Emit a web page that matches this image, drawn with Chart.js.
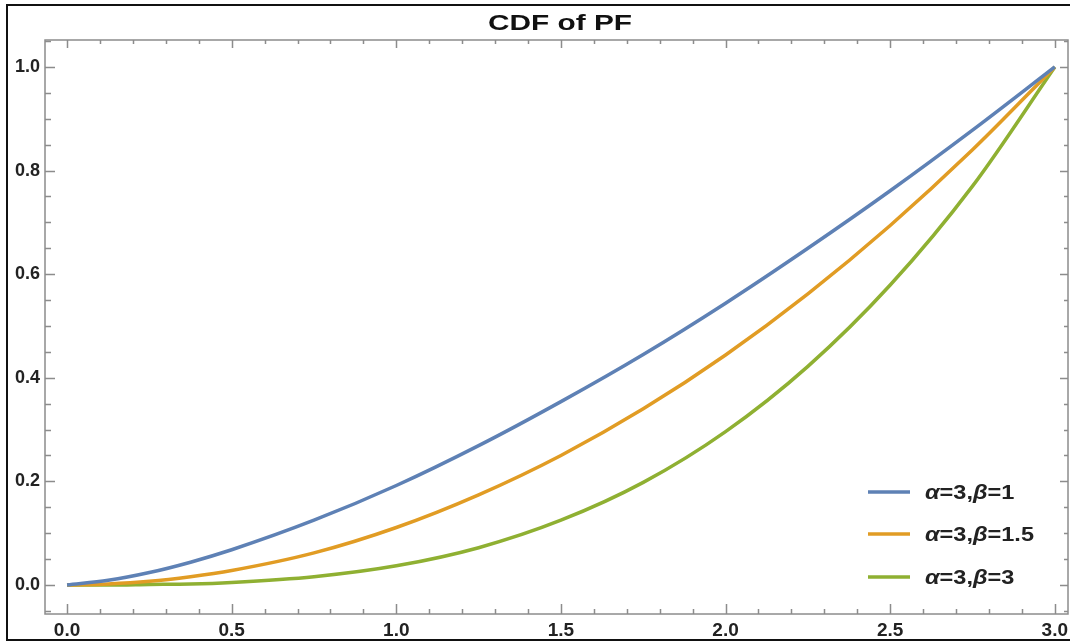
<!DOCTYPE html>
<html>
<head>
<meta charset="utf-8">
<script src="https://cdn.jsdelivr.net/npm/chart.js@4.4.0/dist/chart.umd.min.js"></script>
<style>
  html, body { margin: 0; padding: 0; background: #fff; }
</style>
</head>
<body>
<canvas id="chart" width="1070" height="643"></canvas>
<script>
// values
const xValues = [0, 0.125, 0.25, 0.375, 0.5, 0.75, 1.0, 1.25, 1.5, 1.75, 2.0, 2.25, 2.5, 2.75, 3.0]
const beta1 = [0, 0.009, 0.024, 0.044, 0.068, 0.125, 0.192, 0.269, 0.354, 0.445, 0.544, 0.650, 0.761, 0.878, 1.0]
const beta15 = [0, 0.002, 0.007, 0.016, 0.028, 0.062, 0.111, 0.174, 0.250, 0.340, 0.444, 0.562, 0.694, 0.840, 1.0]
const beta3 = [0, 0, 0.001, 0.002, 0.005, 0.016, 0.037, 0.072, 0.125, 0.198, 0.296, 0.422, 0.579, 0.770, 1.0]
const seriesLabels = ['α=3,β=1', 'α=3,β=1.5', 'α=3,β=3']
const seriesColors = ['#5E81B5', '#E19C24', '#8FB032']
const xTicks = [0, 0.5, 1.0, 1.5, 2.0, 2.5, 3.0]
const yTicks = [0, 0.2, 0.4, 0.6, 0.8, 1.0]
const titleText = 'CDF of PF'

const FONT = '"Liberation Sans", Arial, sans-serif'
const FRAME = '#8c8c8c'

function toPoints(ys) {
  return xValues.map((x, i) => ({ x: x, y: ys[i] }))
}

// draw text squeezed/stretched to a given width
function fillStretched(ctx, text, x, y, width) {
  const w = ctx.measureText(text).width
  ctx.save()
  ctx.translate(x, y)
  ctx.scale(width / w, 1)
  ctx.fillText(text, 0, 0)
  ctx.restore()
}

// frame, inward ticks (Mathematica style), outer border and title
const framePlugin = {
  id: 'framePlugin',
  beforeDatasetsDraw(chart) {
    const ctx = chart.ctx
    const { left, right, top, bottom } = chart.chartArea
    const xs = chart.scales.x
    const ys = chart.scales.y
    ctx.save()
    ctx.strokeStyle = '#111'
    ctx.lineWidth = 2
    ctx.beginPath()
    ctx.moveTo(1072, 5)
    ctx.lineTo(7, 5)
    ctx.lineTo(7, 640)
    ctx.lineTo(1072, 640)
    ctx.stroke()

    ctx.fillStyle = '#111'
    ctx.font = 'bold 22px ' + FONT
    ctx.textBaseline = 'alphabetic'
    ctx.textAlign = 'left'
    fillStretched(ctx, titleText, 488, 30, 144)

    ctx.strokeStyle = FRAME
    ctx.lineWidth = 1.5
    ctx.strokeRect(left, top, right - left, bottom - top)

    ctx.beginPath()
    for (let i = 0; i <= 30; i++) {
      const v = i / 10
      const px = Math.round(xs.getPixelForValue(v)) + 0.5
      const major = i % 5 === 0
      ctx.moveTo(px, bottom)
      ctx.lineTo(px, bottom - (major ? 10 : 5))
      ctx.moveTo(px, top)
      ctx.lineTo(px, top + (major ? 8 : 4))
    }
    for (let i = -1; i <= 21; i++) {
      const v = i * 0.05
      if (v < ys.min || v > ys.max) continue
      const py = Math.round(ys.getPixelForValue(v)) + 0.5
      const major = i % 4 === 0
      ctx.moveTo(left, py)
      ctx.lineTo(left + (major ? 10 : 6), py)
      ctx.moveTo(right, py)
      ctx.lineTo(right - (major ? 8 : 4), py)
    }
    ctx.stroke()
    ctx.restore()
  }
}

// legend inside the plot, lower right
const legendPlugin = {
  id: 'legendPlugin',
  afterDatasetsDraw(chart) {
    const ctx = chart.ctx
    const rows = [492, 534, 577]
    ctx.save()
    chart.data.datasets.forEach((ds, i) => {
      const y = rows[i]
      ctx.strokeStyle = ds.borderColor
      ctx.lineWidth = 3.5
      ctx.beginPath()
      ctx.moveTo(868, y)
      ctx.lineTo(910, y)
      ctx.stroke()
      let x = 925
      ctx.textBaseline = 'middle'
      ctx.fillStyle = '#222'
      ctx.save()
      ctx.translate(x, y + 1)
      ctx.scale(1.12, 1)
      let dx = 0
      for (const ch of ds.label) {
        if (ch === 'α' || ch === 'β') {
          ctx.font = 'italic bold 21px ' + FONT
        } else {
          ctx.font = 'bold 21px ' + FONT
        }
        ctx.fillText(ch, dx, 0)
        dx += ctx.measureText(ch).width
      }
      ctx.restore()
    })
    ctx.restore()
  }
}

const ctx = document.getElementById('chart').getContext('2d')
const myChart = new Chart(ctx, {
  type: 'line',
  data: {
    datasets: [beta1, beta15, beta3].map((ys, i) => ({
      label: seriesLabels[i],
      data: toPoints(ys),
      borderColor: seriesColors[i],
      backgroundColor: seriesColors[i],
      borderWidth: 3.5,
      pointRadius: 0,
      cubicInterpolationMode: 'monotone',
      fill: false
    }))
  },
  options: {
    responsive: false,
    devicePixelRatio: 1,
    animation: false,
    layout: { padding: { left: 0, right: 2, top: 40, bottom: 0 } },
    plugins: {
      legend: { display: false },
      tooltip: { enabled: false },
      title: { display: false }
    },
    scales: {
      x: {
        type: 'linear',
        min: -0.067,
        max: 3.04,
        grid: { display: false, drawTicks: false },
        border: { display: false },
        afterBuildTicks: s => { s.ticks = xTicks.map(v => ({ value: v })) },
        afterFit: s => { s.height = 29; s.paddingLeft = 0; s.paddingRight = 0 },
        ticks: {
          color: '#222',
          padding: 5,
          maxRotation: 0,
          font: { family: FONT, size: 19, weight: 'bold' },
          callback: v => v.toFixed(1)
        }
      },
      y: {
        type: 'linear',
        min: -0.056,
        max: 1.052,
        grid: { display: false, drawTicks: false },
        border: { display: false },
        afterBuildTicks: s => { s.ticks = yTicks.map(v => ({ value: v })) },
        afterFit: s => { s.width = 45; s.paddingTop = 0; s.paddingBottom = 0 },
        ticks: {
          color: '#222',
          padding: 5,
          font: { family: FONT, size: 18, weight: 'bold' },
          callback: v => v.toFixed(1)
        }
      }
    }
  },
  plugins: [framePlugin, legendPlugin]
})
</script>
</body>
</html>
